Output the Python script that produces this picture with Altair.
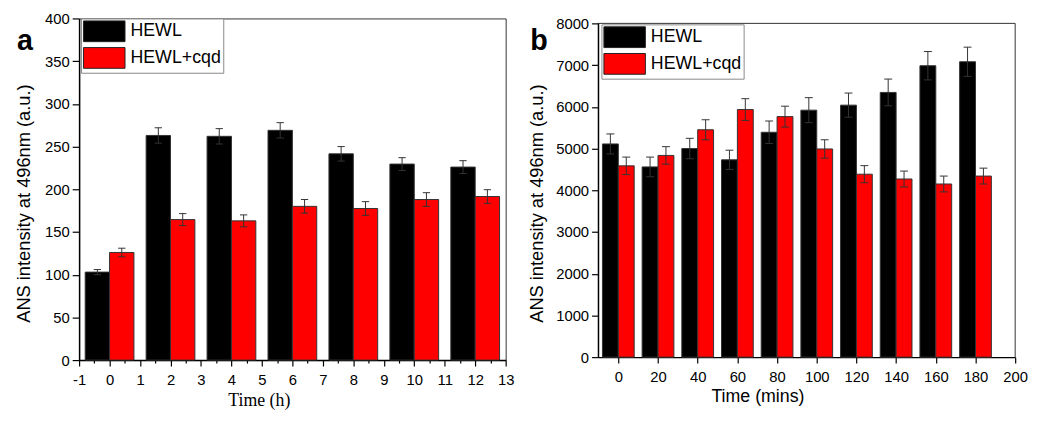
import altair as alt
import pandas as pd

# ---------------- data ----------------
series = ["HEWL", "HEWL+cqd"]
colors = ["#000000", "#ff0000"]

times_a = [0, 2, 4, 6, 8, 10, 12]
hewl_a = [103, 263, 262, 269, 241.5, 229.5, 226]
hewl_a_err = [3, 9, 9, 9, 8.5, 7.5, 7.5]
cqd_a = [126, 164.5, 163, 180, 177.5, 188, 191.5]
cqd_a_err = [5, 7, 7, 8, 8, 8, 8]

times_b = [0, 20, 40, 60, 80, 100, 120, 140, 160, 180]
hewl_b = [5110, 4560, 5000, 4730, 5390, 5920, 6040, 6345, 6985, 7080]
hewl_b_err = [240, 235, 245, 230, 270, 300, 290, 320, 340, 350]
cqd_b = [4585, 4835, 5450, 5935, 5765, 4990, 4385, 4270, 4150, 4340]
cqd_b_err = [210, 210, 240, 260, 250, 220, 205, 190, 190, 190]

xlim_a = [-1, 13]
ylim_a = [0, 400]
xlim_b = [-10, 200]
ylim_b = [0, 8000]

xticks_a = [v / 2 for v in range(-2, 27)]
yticks_a = list(range(0, 401, 50))
xticks_b = list(range(0, 201, 10))
yticks_b = list(range(0, 8001, 1000))


def long_df(times, s1, e1, s2, e2):
    rows = []
    for t, v, e in zip(times, s1, e1):
        rows.append({"t": t, "series": series[0], "v": v, "err": e})
    for t, v, e in zip(times, s2, e2):
        rows.append({"t": t, "series": series[1], "v": v, "err": e})
    return pd.DataFrame(rows)


def panel(df, xlim, xvals, major, ylim, yvals, width, height, frame_h, bw, cap,
          xtitle, xtitle_font, xtx, xty, ytx, yty, letter, lx, ly,
          legx, legy):
    # frame_h: pixel height of the framed region (<= height); the rest is empty space on top
    ytop = ylim[1] * height / frame_h
    own_frame = frame_h != height
    xs = alt.Scale(domain=xlim, nice=False, zero=False)
    ys = alt.Scale(domain=[ylim[0], ytop], nice=False)
    xaxis = alt.Axis(
        values=xvals,
        labelExpr=f"datum.value % {major} === 0 ? '' + datum.value : ''",
        tickSize={"condition": {"test": f"datum.value % {major} !== 0", "value": 3}, "value": 6},
        labelPadding=7,
        title=xtitle,
        titleFont=xtitle_font,
        titleX=xtx,
        titleY=xty,
        titleBaseline="alphabetic",
        titleAlign="center",
    )
    yaxis = alt.Axis(
        values=yvals,
        format="d",
        tickSize=7,
        labelPadding=3,
        domain=not own_frame,
        title="ANS intensity at 496nm (a.u.)",
        titleFontSize=18.5,
        titleX=ytx,
        titleY=yty,
        titleBaseline="alphabetic",
        titleAlign="center",
        titleAngle=270,
    )
    base = alt.Chart(df).transform_calculate(
        x0=f"datum.series === '{series[0]}' ? datum.t - {bw} : datum.t",
    ).transform_calculate(
        x1=f"datum.x0 + {bw}",
        xc=f"datum.x0 + {bw / 2}",
        lo="datum.v - datum.err",
        hi="datum.v + datum.err",
    ).transform_calculate(
        c0=f"datum.xc - {cap}",
        c1=f"datum.xc + {cap}",
    )
    bars = base.mark_bar(stroke="#333333", strokeWidth=1).encode(
        x=alt.X("x0:Q", scale=xs, axis=xaxis),
        x2="x1:Q",
        y=alt.Y("v:Q", scale=ys, axis=yaxis),
        y2=alt.datum(0),
        color=alt.Color(
            "series:N",
            scale=alt.Scale(domain=series, range=colors),
            legend=alt.Legend(
                orient="none", legendX=legx, legendY=legy, title=None,
                symbolType="M-1,-1H3V1H-1Z", symbolSize=441,
                symbolStrokeColor="#222222", symbolStrokeWidth=1,
                symbolOpacity=1,
                labelFont="Liberation Sans", labelFontSize=18,
                labelColor="#000000", labelOffset=26, labelLimit=0,
                padding=2, rowPadding=1,
                strokeColor="#888888", fillColor="#ffffff",
            ),
        ),
    )
    err = base.mark_rule(color="#333333", strokeWidth=1).encode(
        x=alt.X("xc:Q", scale=xs, axis=xaxis),
        y=alt.Y("lo:Q", scale=ys, axis=yaxis),
        y2="hi:Q",
    )
    cap_hi = base.mark_rule(color="#333333", strokeWidth=1).encode(
        x=alt.X("c0:Q", scale=xs, axis=xaxis),
        x2="c1:Q",
        y=alt.Y("hi:Q", scale=ys, axis=yaxis),
    )
    cap_lo = base.mark_rule(color="#333333", strokeWidth=1).encode(
        x=alt.X("c0:Q", scale=xs, axis=xaxis),
        x2="c1:Q",
        y=alt.Y("lo:Q", scale=ys, axis=yaxis),
    )
    lab = alt.Chart(alt.Data(values=[{"lab": letter}])).mark_text(
        font="Liberation Sans", fontSize=29, fontWeight="bold",
        align="left", baseline="alphabetic", color="#000000",
    ).encode(x=alt.value(lx), y=alt.value(ly), text="lab:N")
    layers = [bars, err, cap_hi, cap_lo, lab]
    props = dict(width=width, height=height)
    if own_frame:
        fr = alt.Chart(alt.Data(values=[{"k": 1}]))
        top = fr.mark_rule(color="#333333", strokeWidth=1).encode(
            x=alt.datum(xlim[0], type="quantitative"), x2=alt.datum(xlim[1]),
            y=alt.datum(ylim[1], type="quantitative"))
        right = fr.mark_rule(color="#333333", strokeWidth=1).encode(
            x=alt.datum(xlim[1], type="quantitative"),
            y=alt.datum(ylim[0], type="quantitative"), y2=alt.datum(ylim[1]))
        left = fr.mark_rule(color="#000000", strokeWidth=1.5).encode(
            x=alt.datum(xlim[0], type="quantitative"),
            y=alt.datum(ylim[0], type="quantitative"), y2=alt.datum(ylim[1]))
        layers += [top, right, left]
        props["view"] = {"stroke": "transparent"}
    return alt.layer(*layers).properties(**props)


df_a = long_df(times_a, hewl_a, hewl_a_err, cqd_a, cqd_a_err)
df_b = long_df(times_b, hewl_b, hewl_b_err, cqd_b, cqd_b_err)

pa = panel(df_a, xlim_a, xticks_a, 1, ylim_a, yticks_a, 432, 346, 346, 0.8, 0.12,
           "Time (h)", "Liberation Serif", 182, 46, -50, 187, "a", -63, 32, 2, 0)
pb = panel(df_b, xlim_b, xticks_b, 20, ylim_b, yticks_b, 422, 343, 338, 8, 2,
           "Time (mins)", "Liberation Sans", 161, 45, -57, 187, "b", -69, 32, 3, 6)

chart = alt.hconcat(pa, pb, spacing=12).resolve_legend(color="independent").properties(
    padding={"left": 6, "top": 0, "right": 0, "bottom": 0}
).configure_view(
    stroke="#333333", strokeWidth=1
).configure_axis(
    domainColor="#000000", domainWidth=1.5,
    tickColor="#000000", tickWidth=1.2,
    labelFont="Liberation Sans", labelFontSize=15, labelColor="#000000",
    titleFont="Liberation Sans", titleFontSize=18, titleFontWeight="normal",
    titleColor="#000000", grid=False, labelOverlap=False, labelFlush=False,
)

chart.save("out.html", embed_options={"renderer": "svg", "actions": False})
